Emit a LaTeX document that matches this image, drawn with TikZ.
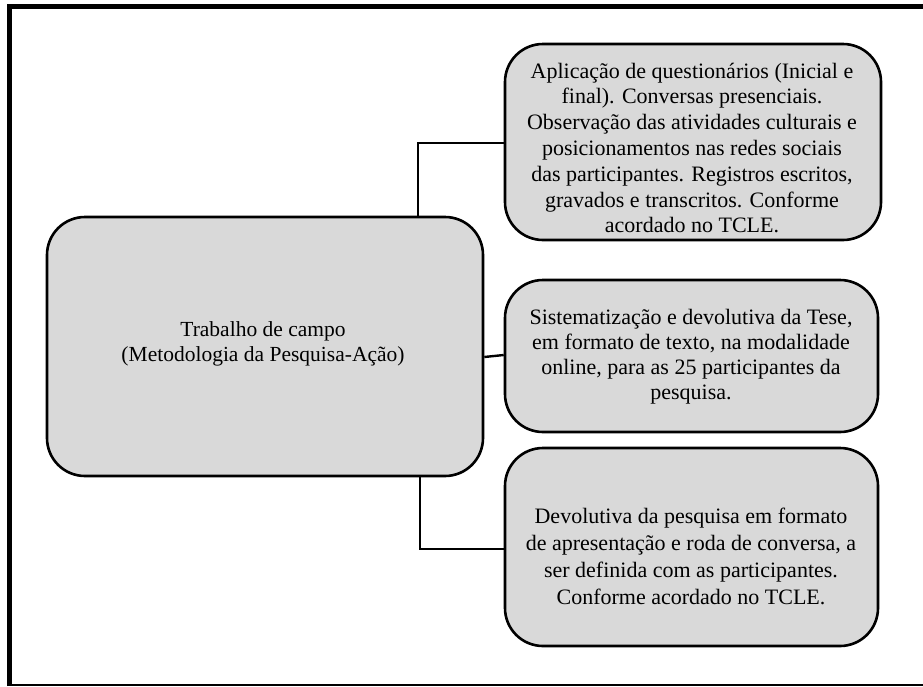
\documentclass[tikz,border=0pt]{standalone}
\usepackage{fontspec}
\setmainfont{Liberation Serif}
\begin{document}
\begin{tikzpicture}[x=1pt,y=-1pt,
  box/.style={draw=black,line width=2.6pt,fill=boxgray,rounded corners=38pt,inner sep=0pt},
  txt/.style={align=center,inner sep=0pt},
  conn/.style={draw=black,line width=2.4pt}]
\definecolor{boxgray}{HTML}{D9D9D9}
\useasboundingbox (0,0) rectangle (923,686);
% frame
\draw[line width=5pt] (9.5,686) -- (9.5,6) -- (923,6);
\draw[line width=1.6pt] (9.5,685) -- (923,685);
% boxes
\node[box,minimum width=436pt,minimum height=259pt] (main) at (265,346.5) {};
\node[box,minimum width=376pt,minimum height=196pt] (b1) at (693,142) {};
\node[box,minimum width=373pt,minimum height=152pt] (b2) at (691.5,356) {};
\node[box,minimum width=373pt,minimum height=198pt] (b3) at (691.5,547) {};
% texts
\node[txt,font=\fontsize{21.5}{25}\selectfont] (tmain) at (263,344)
  {Trabalho de campo\\(Metodologia da Pesquisa-Ação)};
\node[txt,font=\fontsize{22}{25.8}\selectfont] (t1) at (692,148)
  {Aplicação de questionários (Inicial e\\final). Conversas presenciais.\\Observação das atividades culturais e\\posicionamentos nas redes sociais\\das participantes. Registros escritos,\\gravados e transcritos. Conforme\\acordado no TCLE.};
\node[txt,font=\fontsize{22}{25}\selectfont] (t2) at (691,357)
  {Sistematização e devolutiva da Tese,\\em formato de texto, na modalidade\\online, para as 25 participantes da\\pesquisa.};
\node[txt,font=\fontsize{22}{27}\selectfont] (t3) at (691,556)
  {Devolutiva da pesquisa em formato\\de apresentação e roda de conversa, a\\ser definida com as participantes.\\Conforme acordado no TCLE.};
% connectors
\coordinate (c1) at (418,143);
\coordinate (c3) at (420,549);
\draw[conn] (main.north -| c1) -- (c1) -- (c1 -| b1.west);
\draw[conn] (main.east |- 0,357) -- (b2.west |- 0,355);
\draw[conn] (main.south -| c3) -- (c3) -- (c3 -| b3.west);
\end{tikzpicture}
\end{document}
